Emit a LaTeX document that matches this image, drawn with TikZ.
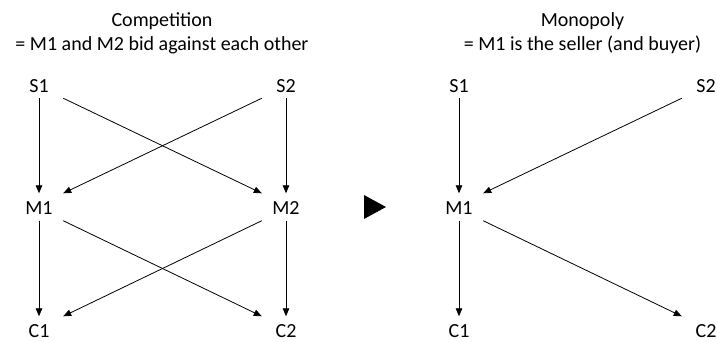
\documentclass[tikz,border=0pt]{standalone}
\usepackage{fontspec}
\setmainfont{Carlito}
\usetikzlibrary{arrows.meta}
\begin{document}
\begin{tikzpicture}[x=1pt,y=-1pt,
  lbl/.style={inner sep=0pt,minimum width=48pt,text height=21pt,text depth=6pt,font=\fontsize{20}{24}\selectfont},
  ttl/.style={inner sep=0pt,anchor=base,font=\fontsize{20}{24}\selectfont},
  arr/.style={line width=0.8pt,-{Triangle[length=8pt,width=6.5pt]}}]
\useasboundingbox (0,0) rectangle (717,341);
% titles
\node[ttl] (t1a) at (162,26.5) {Competition};
\node[ttl] (t1b) at (162,50) {= M1 and M2 bid against each other};
\node[ttl] (t2a) at (582.5,26.5) {Monopoly};
\node[ttl] (t2b) at (582.5,50) {= M1 is the seller (and buyer)};
% left graph
\node[lbl] (S1) at (39,84.5) {S1};
\node[lbl] (S2) at (286,84.5) {S2};
\node[lbl] (M1) at (39,207) {M1};
\node[lbl] (M2) at (286,207) {M2};
\node[lbl] (C1) at (39,330) {C1};
\node[lbl] (C2) at (286,330) {C2};
\draw[arr] (S1.south) -- (M1.north);
\draw[arr] (S1.south east) -- (M2.north west);
\draw[arr] (S2.south west) -- (M1.north east);
\draw[arr] (S2.south) -- (M2.north);
\draw[arr] (M1.south) -- (C1.north);
\draw[arr] (M1.south east) -- (C2.north west);
\draw[arr] (M2.south west) -- (C1.north east);
\draw[arr] (M2.south) -- (C2.north);
% right graph
\node[lbl] (rS1) at (459,84.5) {S1};
\node[lbl] (rS2) at (706,84.5) {S2};
\node[lbl] (rM1) at (459,207) {M1};
\node[lbl] (rC1) at (459,330) {C1};
\node[lbl] (rC2) at (706,330) {C2};
\draw[arr] (rS1.south) -- (rM1.north);
\draw[arr] (rS2.south west) -- (rM1.north east);
\draw[arr] (rM1.south) -- (rC1.north);
\draw[arr] (rM1.south east) -- (rC2.north west);
% big triangle
\fill (364,195) -- (386,207) -- (364,219) -- cycle;
\end{tikzpicture}
\end{document}
